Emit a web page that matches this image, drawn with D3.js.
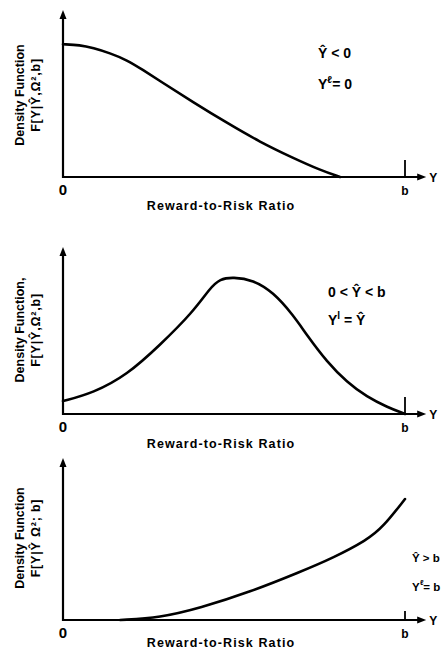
<!DOCTYPE html>
<html>
<head>
<meta charset="utf-8">
<script src="https://cdn.jsdelivr.net/npm/d3@7"></script>
<style>
  body { margin: 0; background: #fff; }
  svg { display: block; }
  text { font-family: "Liberation Sans", Arial, sans-serif; fill: #000; }
</style>
</head>
<body>
<svg width="441" height="658"></svg>
<script>
// ratio runs 0..1 where 1 = b
var xTickLabels = ["0", "b"];
var xTitle = "Reward-to-Risk Ratio";

var p1Ratio   = [0, 0.05, 0.088, 0.137, 0.187, 0.234, 0.284, 0.38, 0.48, 0.576, 0.673, 0.751, 0.81];
var p1Density = [0.79, 0.786, 0.768, 0.738, 0.696, 0.637, 0.571, 0.446, 0.321, 0.208, 0.113, 0.042, 0];

var p2Ratio   = [0, 0.088, 0.187, 0.284, 0.38, 0.43, 0.459, 0.497, 0.556, 0.614, 0.673, 0.713, 0.772, 0.83, 0.889, 0.947, 1.0];
var p2Density = [0.077, 0.125, 0.232, 0.411, 0.607, 0.75, 0.804, 0.815, 0.798, 0.726, 0.589, 0.47, 0.31, 0.19, 0.101, 0.042, 0];

var p3Ratio   = [0.167, 0.284, 0.40, 0.547, 0.693, 0.789, 0.889, 0.936, 1.0];
var p3Density = [0, 0.014, 0.071, 0.167, 0.286, 0.369, 0.476, 0.554, 0.72];

var p1Notes = [["Ŷ", " < 0"], ["Y", "ℓ", "= 0"]];
var p2Notes = [["0 < ", "Ŷ", " < b"], ["Y", "l", " =  Ŷ"]];
var p3Notes = [["Ŷ", " > b"], ["Y", "ℓ", "= b"]];

var p1Func = "F[Y|Ŷ,Ω²,b]";
var p2Func = "F[Y|Ŷ,Ω²,b]";
var p3Func = "F[Y|Ŷ Ω²; b]";

var svg = d3.select("svg");

var x = d3.scaleLinear().domain([0, 1]).range([63, 405]);
var xEnd = 1.062;

var panels = [
  {ratio: p1Ratio, dens: p1Density, notes: p1Notes, func: p1Func, base: 177, top: 10, tick: 17, noteX: 318, noteY: [58, 89], noteSize: 14, yLab: 95, title: 210, yTitleLabel: "Density Function"},
  {ratio: p2Ratio, dens: p2Density, notes: p2Notes, func: p2Func, base: 414, top: 247, tick: 17, noteX: 328, noteY: [297, 325], noteSize: 14, yLab: 330, title: 448, yTitleLabel: "Density Function,"},
  {ratio: p3Ratio, dens: p3Density, notes: p3Notes, func: p3Func, base: 620, top: 458, tick: 9, noteX: 412, noteY: [562, 591], noteSize: 11.5, yLab: 538, title: 647, yTitleLabel: "Density Function"}
];

panels.forEach(function(p) {
  var y = d3.scaleLinear().domain([0, 1]).range([p.base, p.base - 168]);
  var g = svg.append("g");

  // axes
  g.append("line")
    .attr("x1", x(0)).attr("x2", x(0))
    .attr("y1", p.base + 1).attr("y2", p.top + 6)
    .attr("stroke", "#000").attr("stroke-width", 2.2);
  g.append("path")
    .attr("d", "M" + x(0) + "," + p.top + "l-3.5,9h7z")
    .attr("fill", "#000");

  g.append("line")
    .attr("x1", x(0) - 1).attr("x2", x(xEnd) - 6)
    .attr("y1", p.base).attr("y2", p.base)
    .attr("stroke", "#000").attr("stroke-width", 2.2);
  g.append("path")
    .attr("d", "M" + x(xEnd) + "," + p.base + "l-9,-3.5v7z")
    .attr("fill", "#000");
  g.append("text")
    .attr("x", x(xEnd) + 3).attr("y", p.base + 5)
    .style("font-size", "12px").style("font-weight", "bold")
    .text("Y");

  // b tick
  g.append("line")
    .attr("x1", x(1)).attr("x2", x(1))
    .attr("y1", p.base).attr("y2", p.base - p.tick)
    .attr("stroke", "#000").attr("stroke-width", 1.8);

  g.selectAll(".tl").data(xTickLabels).enter().append("text")
    .attr("x", function(d, i) { return x(i); })
    .attr("y", p.base + 18)
    .attr("text-anchor", "middle")
    .style("font-size", function(d, i) { return i ? "12px" : "15px"; })
    .style("font-weight", "bold")
    .text(function(d) { return d; });

  g.append("text")
    .attr("x", 221).attr("y", p.title)
    .attr("text-anchor", "middle")
    .style("font-size", "12.5px").style("font-weight", "bold")
    .style("letter-spacing", "1.1px")
    .text(xTitle);

  // y title
  var yt = g.append("g").attr("transform", "translate(24," + p.yLab + ") rotate(-90)");
  yt.append("text").attr("text-anchor", "middle")
    .style("font-size", "12.5px").style("font-weight", "bold")
    .text(p.yTitleLabel);
  yt.append("text").attr("text-anchor", "middle").attr("y", 16)
    .style("font-size", "12.5px").style("font-weight", "bold")
    .style("letter-spacing", "0.8px")
    .text(p.func);

  // curve
  var pts = p.ratio.map(function(r, i) { return [r, p.dens[i]]; });
  g.append("path")
    .datum(pts)
    .attr("fill", "none").attr("stroke", "#000").attr("stroke-width", 2.6)
    .attr("stroke-linecap", "round")
    .attr("d", d3.line()
      .curve(d3.curveBasis)
      .x(function(d) { return x(d[0]); })
      .y(function(d) { return y(d[1]); }));

  // notes
  p.notes.forEach(function(n, k) {
    var t = g.append("text").attr("x", p.noteX).attr("y", p.noteY[k])
      .style("font-size", p.noteSize + "px").style("font-weight", "bold");
    if (k === 0) {
      t.text(n.join(""));
    } else {
      t.append("tspan").text(n[0]);
      t.append("tspan").attr("dy", -6).style("font-size", (p.noteSize - 4) + "px").text(n[1]);
      t.append("tspan").attr("dy", 6).text(n[2]);
    }
  });
});
</script>
</body>
</html>
